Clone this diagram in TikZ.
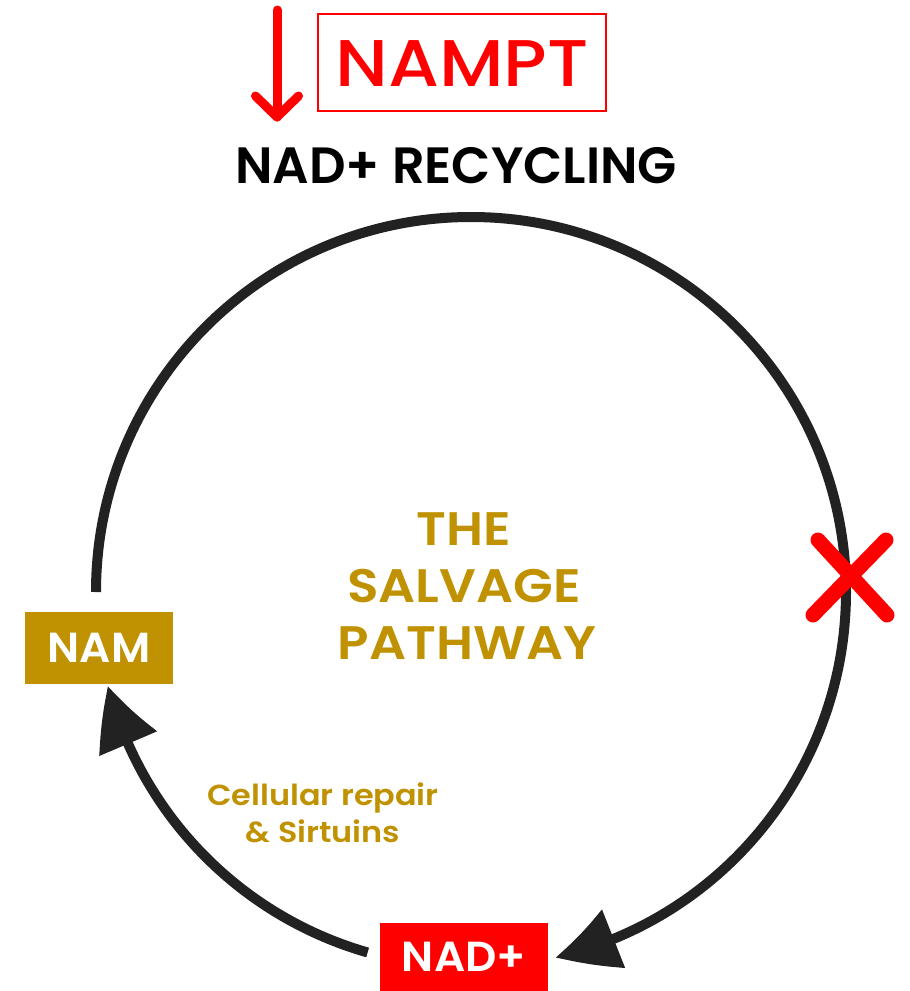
\documentclass[tikz,border=0pt]{standalone}
\usepackage{fontspec}
\setmainfont{Poppins}
\newfontfamily\widemed{Poppins Medium}[FakeStretch=1.11]
\newfontfamily\widesb{Poppins SemiBold}[FakeStretch=1.1]
\newfontfamily\sbfont{Poppins SemiBold}
\newfontfamily\boxfont{Poppins SemiBold}[FakeStretch=1.04]
\usetikzlibrary{arrows.meta,bending}
\definecolor{gold}{RGB}{192,145,0}
\definecolor{cycle}{RGB}{34,34,34}
\definecolor{alert}{RGB}{255,0,0}
\tikzset{
  cyclearc/.style={draw=cycle, line width=10pt,
    -{Triangle[length=62pt,width=60pt,bend]}},
  tagbox/.style={inner sep=0pt, text=white, font=\boxfont\fontsize{42}{42}\selectfont},
  goldtext/.style={text=gold, font=\widesb\fontsize{47}{56}\selectfont, align=center},
  redstroke/.style={draw=alert, line cap=round, line join=round},
}
\begin{document}
\begin{tikzpicture}[x=1pt,y=-1pt]
  \useasboundingbox (0,0) rectangle (910,991);
  % boxed labels
  \node[tagbox, fill=gold, minimum width=148pt, minimum height=72pt] (nam) at (99,648) {NAM};
  \node[tagbox, fill=alert, minimum width=168pt, minimum height=68pt] (nad) at (464,957) {NAD+};
  % arc from NAM over the top to NAD+ (centre 471,592, radius 375)
  \draw[cyclearc] (96,592) arc[start angle=180, end angle=437, radius=375];
  % arc from NAD+ back to NAM
  \draw[cyclearc] ({471+375*cos(106)},{592+375*sin(106)}) arc[start angle=106, end angle=165.5, radius=375];
  % title block
  \node[draw=alert, line width=2pt, minimum width=288pt, minimum height=97pt] (nbox) at (462,62.5) {};
  \node[anchor=base, text=alert, font=\widemed\fontsize{66}{66}\selectfont] (nampt) at (462,86) {NAMPT};
  \coordinate (dtop) at (277,10);
  \coordinate (dtip) at (277,117);
  \draw[redstroke, line width=9pt] (dtop) -- (dtip);
  \draw[redstroke, line width=9pt] (255.5,96) -- (dtip) -- (298.5,96);
  \node[anchor=base, font=\sbfont\fontsize{51}{51}\selectfont] (recyc) at (456,183) {NAD+ RECYCLING};
  % centre label
  \node[goldtext, anchor=base] (the) at (464,545) {THE};
  \node[goldtext, anchor=base] (salv) at (464,602) {SALVAGE};
  \node[goldtext, anchor=base] (path) at (467,659) {PATHWAY};
  % side label
  \node[anchor=base, text=gold, font=\widesb\fontsize{29}{29}\selectfont] (cell) at (323,805) {Cellular repair};
  \node[anchor=base, text=gold, font=\widesb\fontsize{29}{29}\selectfont] (sirt) at (323,842) {\& Sirtuins};
  % blocked step
  \coordinate (x1) at (818,540);
  \coordinate (x2) at (887,615);
  \coordinate (x3) at (886,540);
  \coordinate (x4) at (813,615);
  \draw[redstroke, line width=15pt] (x1) -- (x2);
  \draw[redstroke, line width=15pt] (x3) -- (x4);
\end{tikzpicture}
\end{document}
